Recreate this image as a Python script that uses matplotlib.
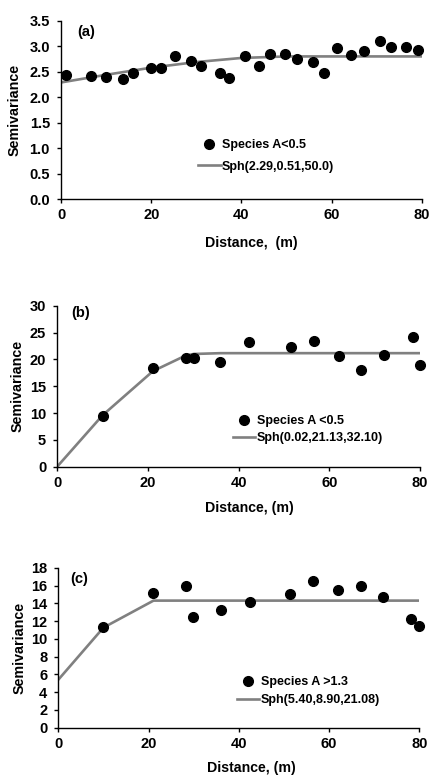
import matplotlib
matplotlib.use("Agg")
import matplotlib.pyplot as plt

plt.rcParams['font.family'] = ['Liberation Sans', 'DejaVu Sans']
plt.rcParams['font.weight'] = 'bold'

# panel (a)
dist_a = [1.0, 6.6, 10.0, 13.8, 15.9, 19.9, 22.2, 25.2, 28.7, 31.1, 35.2, 37.2, 40.7,
          43.9, 46.4, 49.7, 52.3, 55.8, 58.2, 61.2, 64.2, 67.2, 70.6, 73.2, 76.5, 79.2]
semi_a = [2.44, 2.42, 2.40, 2.36, 2.48, 2.57, 2.57, 2.80, 2.71, 2.62, 2.48, 2.37, 2.80,
          2.62, 2.85, 2.85, 2.75, 2.69, 2.48, 2.96, 2.83, 2.91, 3.11, 2.99, 2.99, 2.93]
fit_x_a = [0, 10, 20, 30, 40, 50, 80]
fit_y_a = [2.29, 2.44, 2.58, 2.69, 2.77, 2.80, 2.80]

# panel (b)
dist_b = [10.0, 21.1, 28.3, 30.1, 36.0, 42.4, 51.5, 56.6, 62.2, 67.1, 72.0, 78.4, 80.0]
semi_b = [9.5, 18.4, 20.3, 20.3, 19.5, 23.3, 22.3, 23.4, 20.7, 18.1, 20.9, 24.2, 19.0]
fit_x_b = [0, 10, 21.1, 28.3, 30.1, 36.0, 80]
fit_y_b = [0.02, 9.58, 17.8, 20.7, 21.0, 21.15, 21.15]

# panel (c)
dist_c = [10.0, 21.0, 28.2, 29.9, 36.0, 42.5, 51.4, 56.5, 62.1, 67.0, 72.0, 78.2, 80.0]
semi_c = [11.3, 15.2, 15.9, 12.5, 13.3, 14.2, 15.1, 16.5, 15.5, 15.9, 14.7, 12.2, 11.5]
fit_x_c = [0, 10, 21.1, 80]
fit_y_c = [5.40, 11.26, 14.30, 14.30]

panels = [
    dict(x=dist_a, y=semi_a, fx=fit_x_a, fy=fit_y_a, tag="(a)",
         pts="Species A<0.5", fit="Sph(2.29,0.51,50.0)",
         ylim=(0, 3.5), yticks=[0, 0.5, 1, 1.5, 2, 2.5, 3, 3.5], yfmt="{:.1f}",
         xlabel="Distance,  (m)",
         pos=[0.1396, 0.7432, 0.826, 0.2301],
         tagxy=(0.069, 0.938), leg=(0.38, 0.242), lsp=0.75,
         ylab=-0.13, xlab=(0.528, -0.245)),
    dict(x=dist_b, y=semi_b, fx=fit_x_b, fy=fit_y_b, tag="(b)",
         pts="Species A <0.5", fit="Sph(0.02,21.13,32.10)",
         ylim=(0, 30), yticks=[0, 5, 10, 15, 20, 25, 30], yfmt="{:.0f}",
         xlabel="Distance, (m)",
         pos=[0.131, 0.3986, 0.830, 0.2075],
         tagxy=(0.065, 0.953), leg=(0.484, 0.228), lsp=0.4,
         ylab=-0.108, xlab=(0.53, -0.257)),
    dict(x=dist_c, y=semi_c, fx=fit_x_c, fy=fit_y_c, tag="(c)",
         pts="Species A >1.3", fit="Sph(5.40,8.90,21.08)",
         ylim=(0, 18), yticks=list(range(0, 19, 2)), yfmt="{:.0f}",
         xlabel="Distance, (m)",
         pos=[0.1334, 0.0622, 0.826, 0.2062],
         tagxy=(0.058, 0.927), leg=(0.495, 0.229), lsp=0.45,
         ylab=-0.108, xlab=(0.534, -0.252)),
]

fig = plt.figure(figsize=(4.37, 7.76), dpi=100)

for p in panels:
    ax = fig.add_axes(p["pos"])
    ax.plot(p["fx"], p["fy"], color="#808080", lw=1.9, label=p["fit"], zorder=2)
    ax.plot(p["x"], p["y"], "o", color="black", ms=7, ls="none", label=p["pts"],
            zorder=3, clip_on=False)
    ax.set_xlim(0, 80)
    ax.set_ylim(*p["ylim"])
    ax.set_xticks([0, 20, 40, 60, 80])
    ax.set_yticks(p["yticks"])
    ax.set_yticklabels([p["yfmt"].format(v) for v in p["yticks"]])
    for s in ["top", "right"]:
        ax.spines[s].set_visible(False)
    for s in ["left", "bottom"]:
        ax.spines[s].set_linewidth(1.0)
    ax.tick_params(direction="out", length=3, width=1, labelsize=10.5)
    ax.tick_params(axis="x", pad=3.5)
    ax.tick_params(axis="y", pad=5)
    ax.set_ylabel("Semivariance", fontsize=10.3, fontweight="bold", va="center")
    ax.yaxis.set_label_coords(p["ylab"], 0.5)
    ax.set_xlabel(p["xlabel"], fontsize=10.2, fontweight="bold", va="center")
    ax.xaxis.set_label_coords(*p["xlab"])
    ax.text(p["tagxy"][0], p["tagxy"][1], p["tag"], transform=ax.transAxes,
            fontsize=10.5, fontweight="bold", ha="center", va="center")
    handles, labels = ax.get_legend_handles_labels()
    ax.legend(handles[::-1], labels[::-1], loc="center left",
              bbox_to_anchor=p["leg"], frameon=False, fontsize=9,
              handlelength=1.8, handletextpad=0.1, labelspacing=p["lsp"],
              borderpad=0, borderaxespad=0)

fig.savefig("out.png", dpi=100)
